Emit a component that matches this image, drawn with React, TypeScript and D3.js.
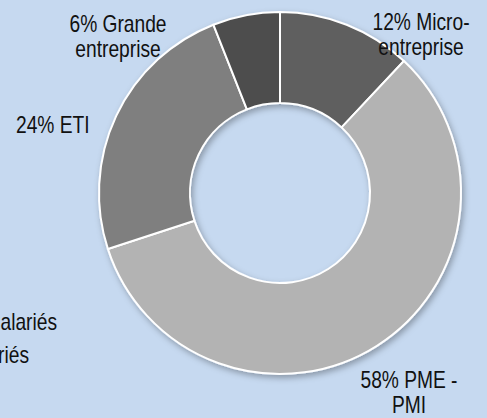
import React from "react";
import * as d3 from "d3";

const categories = ["Micro-entreprise", "PME - PMI", "ETI", "Grande entreprise"];
const values = [12, 58, 24, 6];
const sliceColors = ["#5e5e5e", "#b3b3b3", "#7f7f7f", "#4e4e4e"];
const labelLines = [
  ["12% Micro-", "entreprise"],
  ["58% PME -", "PMI"],
  ["24% ETI"],
  ["6% Grande", "entreprise"],
];
const legendLabels = ["Moins de 10 salariés", "10 à 249 salariés"];
const footerText = "Taille de l'entreprise";

// layout (not data)
const W = 487;
const H = 418;
const CX = 280;
const CY = 193;
const R_OUT = 181;
const R_IN = 90;
const labelOffsets: { dx: number; dy: number; anchor: string }[] = [
  { dx: 141, dy: -163, anchor: "middle" },
  { dx: 129, dy: 195, anchor: "middle" },
  { dx: -264, dy: -60, anchor: "start" },
  { dx: -162, dy: -161, anchor: "middle" },
];
const LINE_H = 25;
const SX = 0.8;
const FONT = "'Liberation Sans', Arial, sans-serif";

function CText({
  x,
  y,
  anchor,
  lines,
}: {
  x: number;
  y: number;
  anchor: string;
  lines: string[];
}) {
  return (
    <text transform={`translate(${x},${y}) scale(${SX},1)`} textAnchor={anchor}>
      {lines.map((ln, j) => (
        <tspan key={j} x={0} dy={j === 0 ? 0 : LINE_H}>
          {ln}
        </tspan>
      ))}
    </text>
  );
}

export default function App() {
  const pie = d3.pie<number>().sort(null).value((d) => d)(values);
  const arc = d3.arc<d3.PieArcDatum<number>>().innerRadius(R_IN).outerRadius(R_OUT);

  return (
    <svg
      width={W}
      height={H}
      viewBox={`0 0 ${W} ${H}`}
      style={{ position: "absolute", left: 0, top: 0, display: "block" }}
    >
      <defs>
        <filter id="sh" x="-20%" y="-20%" width="140%" height="140%">
          <feDropShadow dx="2" dy="3" stdDeviation="3" floodColor="#000" floodOpacity="0.3" />
        </filter>
      </defs>
      <rect x={0} y={0} width={W} height={H} fill="#c6d9f0" />
      <g transform={`translate(${CX},${CY})`} filter="url(#sh)">
        {pie.map((p, i) => (
          <path
            key={categories[i]}
            d={arc(p) || ""}
            fill={sliceColors[i]}
            stroke="#ffffff"
            strokeWidth={2}
            strokeLinejoin="round"
          />
        ))}
      </g>
      <g fontFamily={FONT} fontSize={24} fill="#111">
        {labelLines.map((lines, i) => (
          <CText
            key={"l" + i}
            x={CX + labelOffsets[i].dx}
            y={CY + labelOffsets[i].dy}
            anchor={labelOffsets[i].anchor}
            lines={lines}
          />
        ))}
        <CText x={57} y={330} anchor="end" lines={[legendLabels[0]]} />
        <CText x={29} y={363} anchor="end" lines={[legendLabels[1]]} />
        <CText x={80} y={435} anchor="end" lines={[footerText]} />
      </g>
    </svg>
  );
}
